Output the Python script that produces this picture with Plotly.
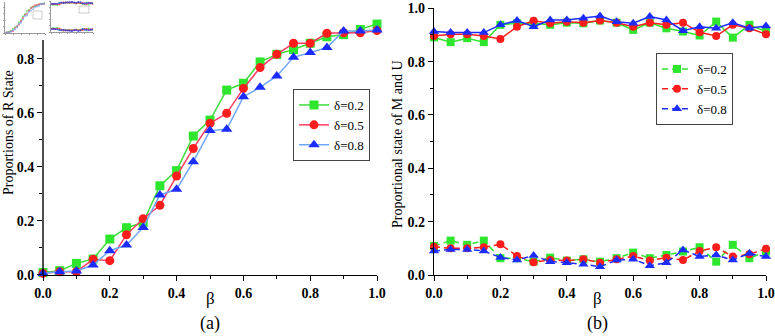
import plotly.graph_objects as go

beta = [round(i * 0.05, 2) for i in range(21)]

# Panel (a): proportions of R state
r_d02 = [0.009, 0.016, 0.043, 0.059, 0.133, 0.175, 0.194, 0.330, 0.386, 0.514, 0.573,
         0.684, 0.709, 0.788, 0.816, 0.834, 0.857, 0.881, 0.889, 0.908, 0.928]
r_d05 = [0.006, 0.012, 0.012, 0.058, 0.053, 0.149, 0.208, 0.258, 0.366, 0.468, 0.561,
         0.598, 0.690, 0.767, 0.816, 0.857, 0.857, 0.894, 0.896, 0.896, 0.904]
r_d08 = [0.006, 0.012, 0.015, 0.037, 0.090, 0.111, 0.176, 0.296, 0.317, 0.419, 0.534,
         0.539, 0.659, 0.694, 0.736, 0.805, 0.823, 0.841, 0.902, 0.902, 0.906]

# Panel (b): upper (solid) curves
m_d02 = [0.891, 0.873, 0.888, 0.873, 0.938, 0.944, 0.944, 0.938, 0.946, 0.944, 0.954,
         0.946, 0.919, 0.946, 0.925, 0.913, 0.898, 0.950, 0.890, 0.938, 0.913]
m_d05 = [0.896, 0.903, 0.903, 0.896, 0.885, 0.931, 0.953, 0.944, 0.950, 0.946, 0.954,
         0.946, 0.931, 0.946, 0.938, 0.946, 0.910, 0.896, 0.938, 0.925, 0.903]
m_d08 = [0.913, 0.909, 0.909, 0.909, 0.938, 0.954, 0.931, 0.956, 0.956, 0.963, 0.971,
         0.950, 0.944, 0.969, 0.956, 0.916, 0.931, 0.925, 0.946, 0.925, 0.934]
# Panel (b): lower (dashed) curves
u_d02 = [0.109, 0.129, 0.113, 0.129, 0.063, 0.063, 0.050, 0.065, 0.054, 0.059, 0.050,
         0.063, 0.084, 0.063, 0.075, 0.088, 0.104, 0.050, 0.113, 0.063, 0.088]
u_d05 = [0.106, 0.100, 0.100, 0.104, 0.115, 0.071, 0.048, 0.056, 0.054, 0.059, 0.046,
         0.059, 0.071, 0.054, 0.065, 0.056, 0.090, 0.104, 0.069, 0.078, 0.098]
u_d08 = [0.090, 0.096, 0.096, 0.090, 0.066, 0.056, 0.073, 0.050, 0.046, 0.040, 0.031,
         0.056, 0.059, 0.035, 0.046, 0.094, 0.069, 0.075, 0.056, 0.081, 0.069]

labels = ["δ=0.2", "δ=0.5", "δ=0.8"]
x_ticks = [0.0, 0.2, 0.4, 0.6, 0.8, 1.0]
x_ticklabels = ["0.0", "0.2", "0.4", "0.6", "0.8", "1.0"]
ya_ticks = [0.0, 0.2, 0.4, 0.6, 0.8]
ya_ticklabels = ["0.0", "0.2", "0.4", "0.6", "0.8"]
yb_ticks = [0.0, 0.2, 0.4, 0.6, 0.8, 1.0]
yb_ticklabels = ["0.0", "0.2", "0.4", "0.6", "0.8", "1.0"]

W, H = 775, 336
SERIF = "Liberation Serif, Times New Roman, serif"

mk_col = ["#2ee62e", "#ff1c1c", "#1c2cff"]
line_a = ["#3ddc3d", "#ff3a64", "#6fa6f5"]
line_b = ["#2ee62e", "#ff1c1c", "#1c2cff"]
symbols = ["square", "circle", "triangle-up"]
sizes_a = [9, 9, 10]
sizes_b = [8, 8, 9]


def px_x(p):
    return p / W


def px_y(p):
    return 1 - p / H


fig = go.Figure()

# Panel (a)
for ys, lc, mc, sym, sz, lab in zip([r_d02, r_d05, r_d08], line_a, mk_col, symbols, sizes_a, labels):
    fig.add_trace(go.Scatter(
        x=beta, y=ys, mode="lines+markers", name=lab,
        line=dict(color=lc, width=1.5),
        marker=dict(color=mc, symbol=sym, size=sz),
        cliponaxis=False, xaxis="x", yaxis="y", legend="legend"))

# Panel (b)
for ys, lc, sym, sz in zip([m_d02, m_d05, m_d08], line_b, symbols, sizes_b):
    fig.add_trace(go.Scatter(
        x=beta, y=ys, mode="lines+markers", showlegend=False,
        line=dict(color=lc, width=1.5),
        marker=dict(color=lc, symbol=sym, size=sz),
        cliponaxis=False, xaxis="x2", yaxis="y2"))
for ys, lc, sym, sz, lab in zip([u_d02, u_d05, u_d08], line_b, symbols, sizes_b, labels):
    fig.add_trace(go.Scatter(
        x=beta, y=ys, mode="lines+markers", name=lab,
        line=dict(color=lc, width=1.5, dash="6px,4px"),
        marker=dict(color=lc, symbol=sym, size=sz),
        cliponaxis=False, xaxis="x2", yaxis="y2", legend="legend2"))

# Thumbnail (small copy of the figure in the top-left corner)
for ys, lc in zip([r_d02, r_d05, r_d08], line_a):
    fig.add_trace(go.Scatter(x=beta, y=ys, mode="lines+markers", showlegend=False,
                             line=dict(color=lc, width=0.6), marker=dict(color=lc, size=2),
                             opacity=0.7, xaxis="x3", yaxis="y3", hoverinfo="skip"))
for ys, lc in zip([m_d02, m_d05, m_d08, u_d02, u_d05, u_d08], line_b * 2):
    fig.add_trace(go.Scatter(x=beta, y=ys, mode="lines+markers", showlegend=False,
                             line=dict(color=lc, width=0.6), marker=dict(color=lc, size=2),
                             opacity=0.7, xaxis="x4", yaxis="y4", hoverinfo="skip"))

tickfont = dict(family=SERIF, size=14, color="black", weight="bold")
common_x = dict(range=[0, 1], tickvals=x_ticks, ticktext=x_ticklabels, ticks="outside",
                ticklen=5, tickwidth=1.3, tickcolor="black", showline=True, linecolor="black",
                linewidth=1.4, showgrid=False, zeroline=False, tickfont=tickfont,
                automargin=False,
                minor=dict(ticks="outside", ticklen=3, tickwidth=1.1, tickcolor="black",
                           tickvals=[0.1, 0.3, 0.5, 0.7, 0.9]))
thumb = dict(showline=True, linecolor="#999", linewidth=0.6, showticklabels=False,
             showgrid=False, zeroline=False, ticks="outside", ticklen=1, tickcolor="#999",
             dtick=0.2, automargin=False)

ya_top = 0.96
fig.update_layout(
    width=W, height=H,
    margin=dict(l=0, r=0, t=0, b=0, autoexpand=False),
    paper_bgcolor="white", plot_bgcolor="white",
    xaxis=dict(domain=[px_x(43), px_x(377)], anchor="y", **common_x),
    yaxis=dict(domain=[px_y(275), px_y(275 - ya_top * 270.4)], anchor="x", range=[0, ya_top],
               tickvals=ya_ticks, ticktext=ya_ticklabels, ticks="outside", ticklen=5,
               tickwidth=1.3, tickcolor="black", showline=False, showgrid=False,
               zeroline=False, tickfont=tickfont, automargin=False,
               minor=dict(ticks="outside", ticklen=3, tickwidth=1.1, tickcolor="black",
                          tickvals=[0.1, 0.3, 0.5, 0.7])),
    xaxis2=dict(domain=[px_x(434), px_x(766)], anchor="y2", **common_x),
    yaxis2=dict(domain=[px_y(275), px_y(8.3)], anchor="x2", range=[0, 1.0],
                tickvals=yb_ticks, ticktext=yb_ticklabels, ticks="outside", ticklen=5,
                tickwidth=1.3, tickcolor="black", showline=True, linecolor="black",
                linewidth=1.4, showgrid=False, zeroline=False, tickfont=tickfont,
                automargin=False,
                minor=dict(ticks="outside", ticklen=3, tickwidth=1.1, tickcolor="black",
                           tickvals=[0.1, 0.3, 0.5, 0.7, 0.9])),
    xaxis3=dict(domain=[px_x(5), px_x(45)], anchor="y3", range=[0, 1], **thumb),
    yaxis3=dict(domain=[px_y(33), px_y(2)], anchor="x3", range=[0, 0.96], **thumb),
    xaxis4=dict(domain=[px_x(51), px_x(93)], anchor="y4", range=[0, 1], **thumb),
    yaxis4=dict(domain=[px_y(32), px_y(1)], anchor="x4", range=[0, 1], **thumb),
    legend=dict(x=px_x(293), y=px_y(89), xanchor="left", yanchor="top",
                bordercolor="#444", borderwidth=1, bgcolor="white",
                font=dict(family=SERIF, size=13, color="black"),
                tracegroupgap=0, itemwidth=30),
    legend2=dict(x=px_x(656), y=px_y(53), xanchor="left", yanchor="top",
                 bordercolor="#444", borderwidth=1, bgcolor="white",
                 font=dict(family=SERIF, size=13, color="black"),
                 tracegroupgap=0, itemwidth=30),
    showlegend=True,
)

# Left spine of panel (a) (ends below the top of the data area)
fig.add_shape(type="line", xref="x domain", yref="y", x0=0, x1=0, y0=0, y1=0.869,
              line=dict(color="black", width=1.4))

# Thumbnail mini legends
fig.add_shape(type="rect", xref="paper", yref="paper", x0=px_x(33), x1=px_x(42),
              y0=px_y(19), y1=px_y(11), line=dict(color="#aaa", width=0.6))
fig.add_shape(type="rect", xref="paper", yref="paper", x0=px_x(79), x1=px_x(89),
              y0=px_y(13), y1=px_y(6), line=dict(color="#aaa", width=0.6))

title_font = dict(family=SERIF, size=14, color="black")
ann = [
    dict(text="Proportions of R State", x=px_x(9), y=px_y(133), textangle=-90, font=title_font),
    dict(text="Proportional state of M and U", x=px_x(397), y=px_y(144), textangle=-90, font=title_font),
    dict(text="β", x=px_x(210), y=px_y(298), font=dict(family=SERIF, size=17, color="black")),
    dict(text="(a)", x=px_x(210), y=px_y(323), font=dict(family=SERIF, size=18, color="black")),
    dict(text="β", x=px_x(597), y=px_y(298), font=dict(family=SERIF, size=17, color="black")),
    dict(text="(b)", x=px_x(597), y=px_y(323), font=dict(family=SERIF, size=18, color="black")),
]
for a in ann:
    fig.add_annotation(xref="paper", yref="paper", showarrow=False,
                       xanchor="center", yanchor="middle", **a)

fig.write_html("out.html", config={"displayModeBar": False},
               post_script="document.body.style.margin='0';")
